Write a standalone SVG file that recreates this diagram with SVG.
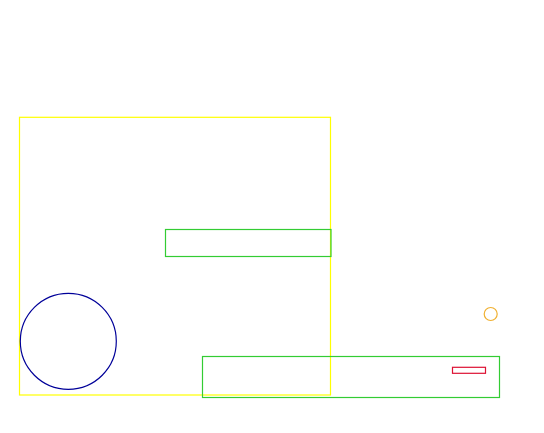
<svg xmlns="http://www.w3.org/2000/svg" width="544" height="433" viewBox="0 0 544 433">
<style>
.s{fill:none;stroke-width:1.2}
</style>
<rect width="544" height="433" fill="#ffffff"/>
<g id="yellow-box"><rect class="s" x="19.5" y="117.3" width="311" height="277.7" stroke="#ffff00"/></g>
<g id="blue-circle"><circle class="s" cx="68.3" cy="341.3" r="48" stroke="#000099"/></g>
<g id="green-bar-top"><rect class="s" x="165.5" y="229.5" width="165.5" height="27" stroke="#33cc33"/></g>
<g id="green-bar-bottom"><rect class="s" x="202.5" y="356.5" width="297" height="41" stroke="#33cc33"/></g>
<g id="red-rect"><rect class="s" x="452.5" y="367.3" width="33" height="6" stroke="#dd1133"/></g>
<g id="orange-circle"><circle class="s" cx="490.7" cy="314" r="6.5" stroke="#f0b030"/></g>
<g id="connectors"></g>
</svg>
